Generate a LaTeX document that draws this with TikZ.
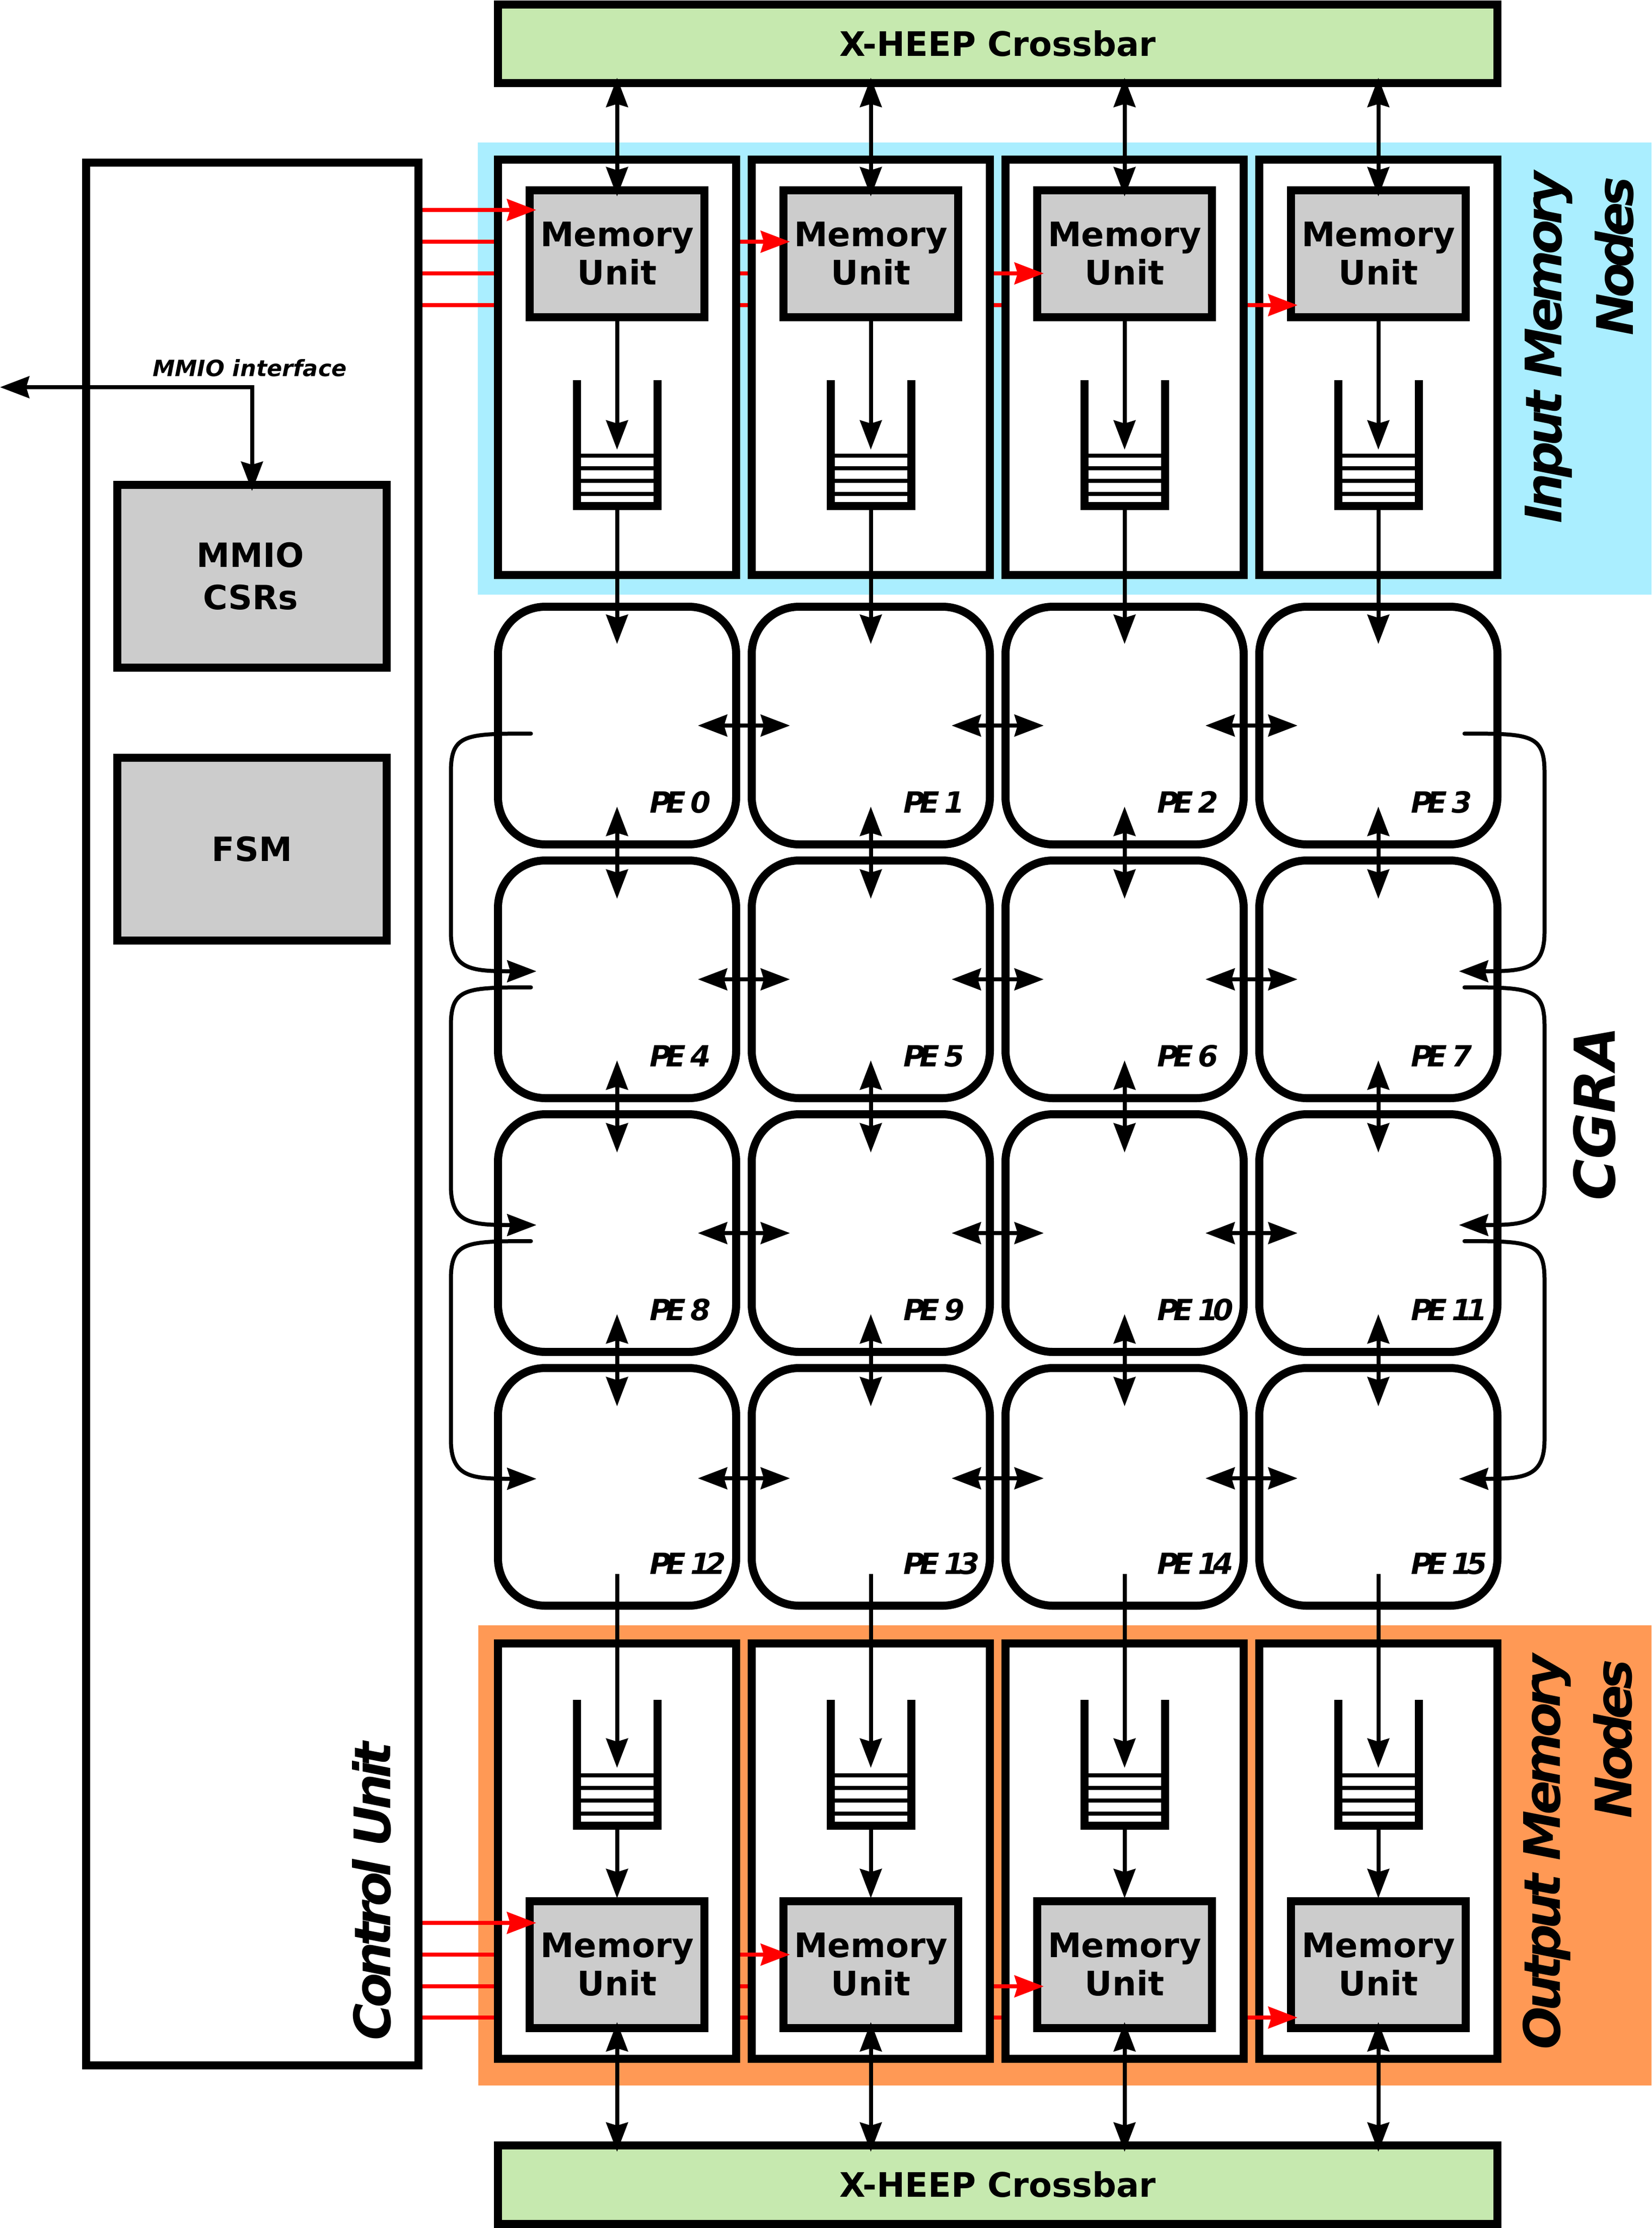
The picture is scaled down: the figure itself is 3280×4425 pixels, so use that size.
\documentclass[tikz,border=0pt]{standalone}
\usepackage{fontspec}
\setmainfont{DejaVu Sans}
\usetikzlibrary{arrows.meta,calc}
\definecolor{inblue}{HTML}{AAEEFF}
\definecolor{outorange}{HTML}{FF9955}
\definecolor{xgreen}{HTML}{C6E9AF}
\definecolor{unitgray}{HTML}{CCCCCC}
\newcommand{\psz}[2]{\fontsize{#1}{#2}\selectfont}
\newcommand{\tightfont}[1]{\addfontfeature{LetterSpace=#1}}
\tikzset{
  x=0.25pt,y=-0.25pt,
  tip/.tip={Stealth[length=14.5pt,width=10.75pt,inset=1.5pt]},
  conn/.style={line width=2pt,black},
  uni/.style={conn,-tip},
  bi/.style={conn,tip-tip},
  redl/.style={line width=2pt,red},
  reda/.style={redl,-tip},
  box/.style={draw,line width=4pt,inner sep=0pt,outer sep=0pt,align=center,font=\bfseries\psz{16.75}{19}},
  memnode/.style={box,fill=white,minimum width=118.25pt,minimum height=206.25pt},
  unitbox/.style={box,fill=unitgray,minimum width=86.75pt,minimum height=63pt},
  pebox/.style={box,fill=white,rounded corners=23.5pt,minimum width=118.25pt,minimum height=118pt},
  csrbox/.style={box,fill=unitgray,minimum width=133.75pt,minimum height=90.75pt,font=\bfseries\psz{16.6}{21}},
  xbar/.style={box,fill=xgreen,minimum width=496.25pt,minimum height=39pt},
  petext/.style={anchor=base west,inner sep=0pt,font=\bfseries\itshape\psz{14.5}{17}\tightfont{-18}},
  sidetext/.style={font=\bfseries\itshape\psz{25}{35.5}\tightfont{-9},align=right,inner sep=0pt,rotate=90},
}
\newcommand{\fifo}[2]{% centre x, top y
  \draw[line width=4pt,line cap=butt] (#1-80,#2) -- (#1-80,#2+250) -- (#1+80,#2+250) -- (#1+80,#2);
  \foreach \dy in {150,175,200,226}
    \draw[line width=1.9pt] (#1-80,#2+\dy) -- (#1+80,#2+\dy);
}
\begin{document}
\begin{tikzpicture}
\useasboundingbox (0,0) rectangle (3280,4425);
% backgrounds
\fill[inblue] (949,283) rectangle (3280,1181);
\fill[outorange] (950,3228) rectangle (3280,4142);
% control unit
\node[box,fill=white,minimum width=165pt,minimum height=944.75pt] (cu) at (501,2212.5) {};
% red lines behind boxes
\foreach \ya/\xb in {480/1000,543/1500,606/2000,3882/1000,3945/1500,4007/2000}{
  \draw[redl] ($(cu.east |- 0,\ya)+(8,0)$) -- (\xb,\ya);
}
% memory node boxes and units
\foreach \k/\cx in {0/1225.5,1/1729.5,2/2233.5,3/2737.5}{
  \node[memnode] (in\k) at (\cx,729.5) {};
  \node[unitbox] (mi\k) at (\cx,504) {\vphantom{y}Memory\\Unit};
  \node[memnode] (on\k) at (\cx,3676.5) {};
  \node[unitbox] (mo\k) at (\cx,3902) {\vphantom{y}Memory\\Unit};
  \fifo{\cx}{755}
  \fifo{\cx}{3376}
}
% PE grid
\foreach \r/\cy in {0/1441,1/1945,2/2449,3/2953}{
  \foreach \c/\cx in {0/1225.5,1/1729.5,2/2233.5,3/2737.5}{
    \pgfmathtruncatemacro{\n}{\r*4+\c}
    \node[pebox] (pe\n) at (\cx,\cy) {};
    \node[petext] (lab\n) at (\cx+64,\cy+173) {PE \n};
  }
}
% crossbars
\node[xbar] (xt) at (1981.5,86.5) {X-HEEP Crossbar};
\node[xbar] (xb) at (1981.5,4338.5) {X-HEEP Crossbar};
% CSR
\node[csrbox] (mmio) at (500.5,1144.5) {MMIO\kern1.5pt\\CSRs\kern1.5pt};
\node[csrbox] (fsm) at (500.5,1686.5) {FSM};
% red arrows on top
\foreach \k/\ya/\xs in {0/417/839,1/480/1470,2/543/1974,3/606/2478}{
  \coordinate (ra\k) at (\xs,\ya);
  \draw[reda] (ra\k) -- ($(ra\k -| mi\k.west)+(13,0)$);
}
\foreach \k/\ya/\xs in {0/3819/839,1/3882/1470,2/3945/1974,3/4007/2478}{
  \coordinate (rb\k) at (\xs,\ya);
  \draw[reda] (rb\k) -- ($(rb\k -| mo\k.west)+(13,0)$);
}
% vertical connectors for memory nodes
\foreach \k/\pk in {0/12,1/13,2/14,3/15}{
  \pgfmathtruncatemacro{\pt}{\k}
  \draw[bi] ([yshift=2.5pt]xt.south -| mi\k.north) -- ([yshift=-3pt]mi\k.north);
  \coordinate (fa\k) at (mi\k.south |- 0,893);
  \draw[uni] (mi\k.south) -- (fa\k);
  \coordinate (fi\k) at (mi\k.south |- 0,1005);
  \draw[uni] (fi\k) -- ([yshift=-18.5pt]pe\pt.north);
  \coordinate (po\k) at (pe\pk.south |- 0,3126);
  \coordinate (ft\k) at (pe\pk.south |- 0,3511);
  \draw[uni] (po\k) -- (ft\k);
  \coordinate (fo\k) at (pe\pk.south |- 0,3626);
  \draw[uni] (fo\k) -- ([yshift=1.5pt]mo\k.north);
  \draw[bi] ([yshift=3pt]mo\k.south) -- ([yshift=-3.25pt]xb.north -| mo\k.south);
}
% PE horizontal
\foreach \r/\dy in {0/0,4/0,8/0,12/4.25}{
  \foreach \o in {0,1,2}{
    \pgfmathtruncatemacro{\a}{\r+\o}\pgfmathtruncatemacro{\b}{\r+\o+1}
    \draw[bi] ([xshift=-19pt,yshift=\dy pt]pe\a.east) -- ([xshift=19pt,yshift=\dy pt]pe\b.west);
  }
}
% PE vertical
\foreach \c in {0,1,2,3}{
  \foreach \r in {0,4,8}{
    \pgfmathtruncatemacro{\a}{\r+\c}\pgfmathtruncatemacro{\b}{\r+\c+4}
    \draw[bi] ([yshift=18.75pt]pe\a.south) -- ([yshift=-19pt]pe\b.north);
  }
}
% wrap connectors left and right
\foreach \a/\b in {0/4,4/8,8/12}{
  \coordinate (ls\a) at ($(pe\a.center)+(-171,16)$);
  \coordinate (le\a) at ($(pe\b.center)+(-160,-16)$);
  \coordinate (lt\a) at ($(pe\a.center)+(-330,92)$);
  \coordinate (lu\a) at ($(pe\b.center)+(-330,-94)$);
  \draw[uni,line cap=round] (ls\a) .. controls ++(-130,0) and ($(lt\a)+(0,-75)$) .. (lt\a) -- (lu\a)
     .. controls ($(lu\a)+(0,75)$) and ($(le\a)+(-130,0)$) .. (le\a);
}
\foreach \a/\b in {3/7,7/11,11/15}{
  \coordinate (rs\a) at ($(pe\a.center)+(171,16)$);
  \coordinate (re\a) at ($(pe\b.center)+(160,-16)$);
  \coordinate (rt\a) at ($(pe\a.center)+(330,92)$);
  \coordinate (ru\a) at ($(pe\b.center)+(330,-94)$);
  \draw[uni,line cap=round] (rs\a) .. controls ++(130,0) and ($(rt\a)+(0,-75)$) .. (rt\a) -- (ru\a)
     .. controls ($(ru\a)+(0,75)$) and ($(re\a)+(130,0)$) .. (re\a);
}
% MMIO interface
\coordinate (mmiofree) at (0,769);
\draw[bi] (mmiofree) -| ([yshift=-3pt]mmio.north);
\node[font=\bfseries\itshape\psz{11.15}{14},inner sep=0pt] (mmiolab) at (496,731) {MMIO interface};
% side labels
\node[sidetext,anchor=north east] (innodes) at (3028,340) {Input Memory\\Nodes\kern2.5pt};
\node[sidetext,anchor=north east] (outnodes) at (3023,3285) {Output Memory\\Nodes\kern2.5pt};
\node[sidetext,font=\bfseries\itshape\psz{28}{30}\tightfont{-0.5}] (cgra) at (3167,2212) {CGRA};
\node[sidetext,anchor=north west,font=\bfseries\itshape\psz{25}{30}\tightfont{-9}] (culab) at (699,4053) {Control Unit};
\end{tikzpicture}
\end{document}
